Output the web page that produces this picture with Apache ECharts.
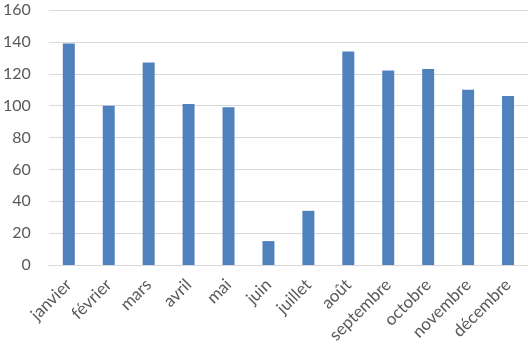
<!DOCTYPE html>
<html><head><meta charset="utf-8">
<script src="https://cdn.jsdelivr.net/npm/echarts@6/dist/echarts.min.js"></script>
<style>html,body{margin:0;padding:0;background:#fff}#c{width:528px;height:352px}</style>
</head><body><div id="c"></div>
<script>
var categories = ["janvier","février","mars","avril","mai","juin","juillet","août","septembre","octobre","novembre","décembre"];
var values = [139, 100, 127, 101, 99, 15, 34, 134, 122, 123, 110, 106];
var yTicks = [0, 20, 40, 60, 80, 100, 120, 140, 160];

var chart = echarts.init(document.getElementById('c'), null, {renderer: 'canvas'});
chart.setOption({
  animation: false,
  grid: {left: 48, right: 0, top: 10, bottom: 87, containLabel: false},
  xAxis: {
    type: 'category',
    data: categories,
    axisLine: {show: true, lineStyle: {color: '#d9d9d9', width: 1}},
    axisTick: {show: false},
    axisLabel: {rotate: 45, margin: 17, color: '#595959', fontFamily: 'Lato', fontSize: 17, interval: 0}
  },
  yAxis: {
    type: 'value',
    min: yTicks[0], max: yTicks[yTicks.length - 1], interval: 20,
    axisLine: {show: false},
    axisTick: {show: false},
    splitLine: {lineStyle: {color: '#d9d9d9', width: 1}},
    axisLabel: {margin: 18, color: '#595959', fontFamily: 'Lato', fontSize: 16}
  },
  series: [{
    type: 'bar',
    data: values,
    barWidth: '30%',
    itemStyle: {color: '#4f81bd'}
  }]
});
</script></body></html>
